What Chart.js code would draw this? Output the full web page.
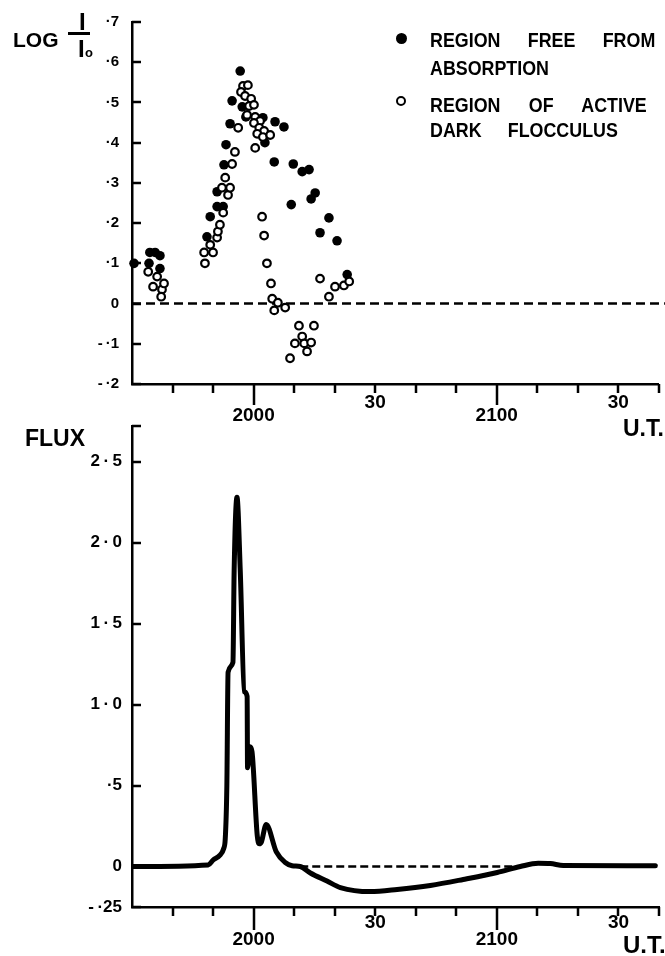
<!DOCTYPE html>
<html>
<head>
<meta charset="utf-8">
<script src="https://cdn.jsdelivr.net/npm/chart.js@4.4.1/dist/chart.umd.min.js"></script>
<style>
  body { margin: 0; background: #fff; }
  #page { position: relative; width: 665px; height: 956px; overflow: hidden;
          font-family: "Liberation Sans", Arial, sans-serif; font-weight: bold; color: #000; }
  canvas { position: absolute; left: 0; }
  .txt { position: absolute; line-height: 1; white-space: nowrap; }
  .key { position: absolute; font-size: 21px; line-height: 1; transform: scaleX(0.85);
         transform-origin: 0 0; text-align: justify; text-align-last: justify; }
</style>
</head>
<body>
<div id="page">
  <canvas id="logChart" width="665" height="440" style="top:0"></canvas>
  <canvas id="fluxChart" width="665" height="556" style="top:400px"></canvas>

  <!-- axis titles -->
  <div class="txt" style="left:13px;top:29px;font-size:21px">LOG</div>
  <div class="txt" style="left:79px;top:10px;font-size:24px">I</div>
  <div style="position:absolute;left:68px;top:32px;width:22px;height:3px;background:#000"></div>
  <div class="txt" style="left:78px;top:37px;font-size:24px">I</div>
  <div class="txt" style="left:85px;top:46px;font-size:13px">o</div>
  <div class="txt" style="left:25px;top:427px;font-size:23px">FLUX</div>
  <div class="txt" style="left:623px;top:417px;font-size:23px">U.T.</div>
  <div class="txt" style="left:623px;top:933px;font-size:24px">U.T.</div>

  <!-- key -->
  <div style="position:absolute;left:396px;top:33px;width:11px;height:11px;border-radius:50%;background:#000"></div>
  <div style="position:absolute;left:396px;top:96px;width:10px;height:10px;box-sizing:border-box;border:2.5px solid #000;border-radius:50%"></div>
  <div class="key" style="left:430px;top:29px;width:265px">REGION FREE FROM</div>
  <div class="key" style="left:430px;top:57px">ABSORPTION</div>
  <div class="key" style="left:430px;top:94px;width:255px">REGION OF ACTIVE</div>
  <div class="key" style="left:430px;top:119px;width:221px">DARK FLOCCULUS</div>
</div>

<script>
const FONT = "'Liberation Sans', Arial, sans-serif";

// U.T. written as minutes after 19h00 (30 = 1930, 60 = 2000, 120 = 2100)
const timeTicks = [40, 50, 60, 70, 80, 90, 100, 110, 120, 130, 140, 150, 160];
const timeLabels = ["", "", "2000", "", "", "30", "", "", "2100", "", "", "30", ""];
const majorTimes = [60, 120];

const logTicks = [-0.2, -0.1, 0, 0.1, 0.2, 0.3, 0.4, 0.5, 0.6, 0.7];
const logLabels = ["-\u2009·2", "-\u2009·1", "0", "·1", "·2", "·3", "·4", "·5", "·6", "·7"];

const fluxTicks = [-0.25, 0, 0.5, 1, 1.5, 2, 2.5];
const fluxLabels = ["-\u2009·25", "0", "·5", "1\u2009·\u20090", "1\u2009·\u20095", "2\u2009·\u20090", "2\u2009·\u20095"];

// region free from absorption (filled dots)
const freeTime = [30.5, 34.2, 34.4, 35.7, 36.9, 36.9, 48.5, 49.3, 51.0, 52.5, 51.0, 52.7,
                  53.2, 54.2, 54.7, 56.7, 57.2, 58.1, 62.3, 62.8, 65.3, 67.5, 65.1, 69.8,
                  72.0, 73.7, 75.2, 69.3, 74.2, 76.4, 78.6, 80.6, 83.1];
const freeLog = [0.10, 0.10, 0.127, 0.127, 0.119, 0.087, 0.166, 0.216, 0.241, 0.241, 0.278, 0.345,
                 0.395, 0.447, 0.504, 0.578, 0.489, 0.464, 0.462, 0.40, 0.452, 0.439, 0.352, 0.347,
                 0.328, 0.333, 0.275, 0.246, 0.26, 0.176, 0.213, 0.156, 0.072];

// region of active dark flocculus (open dots)
const darkTime = [34.0, 36.2, 35.2, 37.4, 37.9, 37.2, 48.0, 47.8, 50.0, 49.3, 51.0, 51.2,
                  51.7, 52.5, 53.7, 52.2, 54.2, 53.0, 54.7, 55.4, 56.2, 57.4, 58.6, 56.9,
                  57.9, 59.4, 58.9, 60.1, 58.4, 60.4, 61.6, 60.1, 61.4, 62.6, 60.9, 62.3,
                  64.1, 60.4, 62.1, 62.6, 63.3, 64.3, 64.6, 66.0, 65.1, 67.8, 71.2, 74.9,
                  70.2, 72.0, 72.5, 74.2, 73.2, 69.0, 76.4, 78.6, 80.1, 82.3, 83.6];
const darkLog = [0.079, 0.067, 0.042, 0.035, 0.05, 0.017, 0.10, 0.127, 0.127, 0.146, 0.164, 0.179,
                 0.196, 0.226, 0.27, 0.288, 0.288, 0.313, 0.347, 0.377, 0.437, 0.541, 0.543, 0.526,
                 0.516, 0.509, 0.491, 0.494, 0.469, 0.464, 0.454, 0.449, 0.437, 0.429, 0.422, 0.414,
                 0.419, 0.387, 0.216, 0.169, 0.10, 0.05, 0.012, 0.002, -0.017, -0.01, -0.055, -0.055,
                 -0.099, -0.082, -0.099, -0.097, -0.119, -0.136, 0.062, 0.017, 0.042, 0.045, 0.055];

// flux trace
const fluxTime = [30, 48.8, 50.0, 51.7, 52.6, 53.0, 53.4, 53.7, 54.9, 55.2, 55.9, 56.7, 57.7,
                  58.4, 58.5, 59.1, 59.6, 60.9, 61.4, 61.9, 63.1, 65.6, 67.8, 69.5, 71.5, 74.0,
                  78.1, 81.4, 88.8, 95.4, 103.6, 111.7, 120.1, 125.8, 130.2, 133.2, 136.4, 159.1];
const fluxValue = [0, 0.01, 0.04, 0.07, 0.11, 0.17, 0.5, 1.20, 1.26, 1.83, 2.28, 1.83, 1.08,
                   1.05, 0.61, 0.74, 0.71, 0.19, 0.14, 0.15, 0.26, 0.09, 0.025, 0.005, 0.0, -0.04,
                   -0.09, -0.13, -0.155, -0.142, -0.117, -0.08, -0.037, 0, 0.02, 0.018, 0.006, 0.005];

// dashed zero levels
const logZeroTime = [30, 161.5];
const fluxZeroTime = [71.5, 127];

const pts = (xs, ys) => xs.map((x, i) => ({ x, y: ys[i] }));

/* tick marks: inward on the y axis, downward on the time axis */
const tickMarks = {
    id: "tickMarks",
    afterDatasetsDraw(chart, args, opts) {
        const { ctx, scales: { x, y } } = chart;
        ctx.save();
        ctx.strokeStyle = "#000";
        ctx.lineWidth = 2.5;
        ctx.beginPath();
        opts.yValues.forEach(v => {
            const py = Math.round(y.getPixelForValue(v));
            ctx.moveTo(x.left, py);
            ctx.lineTo(x.left + 9, py);
        });
        timeTicks.forEach(v => {
            const px = Math.round(x.getPixelForValue(v));
            const len = majorTimes.includes(v) ? opts.majorLen : 9;
            ctx.moveTo(px, y.bottom);
            ctx.lineTo(px, y.bottom + len);
        });
        ctx.stroke();
        ctx.restore();
    }
};

function timeScale(height, minorLH, majorLH) {
    return {
        type: "linear",
        min: 30,
        max: 160,
        grid: { display: false, drawTicks: false },
        border: { display: true, color: "#000", width: 2.5 },
        afterBuildTicks: s => { s.ticks = timeTicks.map(v => ({ value: v })); },
        afterFit: s => { s.height = height; },
        ticks: {
            autoSkip: false,
            maxRotation: 0,
            padding: 0,
            color: "#000",
            callback: (v, i) => timeLabels[i],
            font: c => ({
                family: FONT, size: 19, weight: "bold",
                lineHeight: ((c.tick && majorTimes.includes(c.tick.value)) ? majorLH : minorLH) + "px"
            })
        }
    };
}

function valueScale(min, max, ticks, labels, size, padding) {
    return {
        type: "linear",
        min: min,
        max: max,
        grid: { display: false, drawTicks: false },
        border: { display: true, color: "#000", width: 2.5 },
        afterBuildTicks: s => { s.ticks = ticks.map(v => ({ value: v })); },
        afterFit: s => { s.width = 132; },
        ticks: {
            padding: padding,
            color: "#000",
            callback: (v, i) => labels[i],
            font: { family: FONT, size: size, weight: "bold" }
        }
    };
}

const common = {
    responsive: false,
    animation: false,
    events: [],
    plugins: { legend: { display: false }, tooltip: { enabled: false } }
};

new Chart(document.getElementById("logChart"), {
    type: "scatter",
    data: {
        datasets: [
            {
                data: pts(darkTime, darkLog),
                pointRadius: 3.8,
                pointBorderWidth: 2.2,
                pointBorderColor: "#000",
                pointBackgroundColor: "#fff",
                clip: false
            },
            {
                data: pts(freeTime, freeLog),
                pointRadius: 4.8,
                pointBorderWidth: 0,
                pointBackgroundColor: "#000",
                clip: false
            },
            {
                data: pts(logZeroTime, [0, 0]),
                showLine: true,
                pointRadius: 0,
                borderColor: "#000",
                borderWidth: 2.5,
                borderDash: [9, 5],
                clip: false
            }
        ]
    },
    options: {
        ...common,
        layout: { padding: { top: 21, right: 6, left: 0, bottom: 0 } },
        scales: {
            x: timeScale(56, 38, 64),
            y: valueScale(-0.2, 0.7, logTicks, logLabels, 15, 13)
        },
        plugins: { ...common.plugins, tickMarks: { yValues: logTicks, majorLen: 21 } }
    },
    plugins: [tickMarks]
});

new Chart(document.getElementById("fluxChart"), {
    type: "scatter",
    data: {
        datasets: [
            {
                data: pts(fluxTime, fluxValue),
                showLine: true,
                pointRadius: 0,
                borderColor: "#000",
                borderWidth: 5,
                borderJoinStyle: "round",
                borderCapStyle: "round",
                cubicInterpolationMode: "monotone"
            },
            {
                data: pts(fluxZeroTime, [0, 0]),
                showLine: true,
                pointRadius: 0,
                borderColor: "#000",
                borderWidth: 2.5,
                borderDash: [8, 4]
            }
        ]
    },
    options: {
        ...common,
        layout: { padding: { top: 26, right: 6, left: 0, bottom: 0 } },
        scales: {
            x: timeScale(49, 32, 66),
            y: valueScale(-0.25, 2.72, fluxTicks, fluxLabels, 17, 10)
        },
        plugins: { ...common.plugins, tickMarks: { yValues: fluxTicks.concat([2.72]), majorLen: 23 } }
    },
    plugins: [tickMarks]
});
</script>
</body>
</html>
